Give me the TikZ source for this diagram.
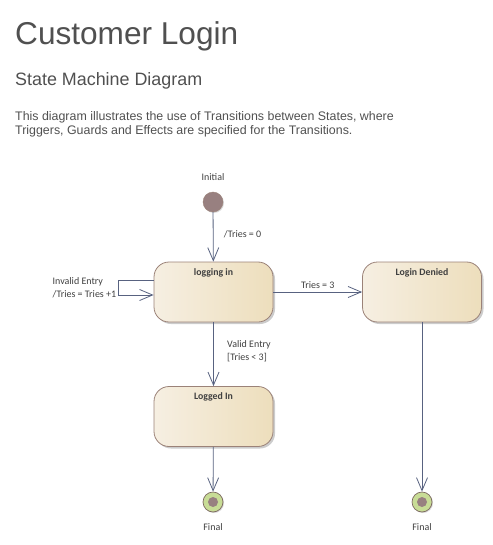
\documentclass[tikz,border=0pt]{standalone}
\usepackage{fontspec}
\setmainfont{Liberation Sans}
\newfontfamily\diagfont{Carlito}
\usetikzlibrary{arrows.meta,shadows,positioning}

\definecolor{linecol}{RGB}{88,98,128}
\definecolor{stateleft}{RGB}{246,239,226}
\definecolor{stateright}{RGB}{237,222,188}
\definecolor{stateline}{RGB}{155,130,120}
\definecolor{pseudofill}{RGB}{152,128,128}
\definecolor{finalfill}{RGB}{200,220,150}
\definecolor{headgray}{RGB}{80,80,80}
\definecolor{labelgray}{RGB}{64,64,64}

\begin{document}
\begin{tikzpicture}[x=1pt, y=-1pt,
    state/.style={draw=stateline, line width=0.8pt, rounded corners=15pt, minimum width=119pt, minimum height=60pt,
        left color=stateleft, right color=stateright,
        drop shadow={shadow xshift=2pt, shadow yshift=-2pt, fill=black!40, opacity=0.5}},
    statename/.style={font=\diagfont\bfseries\fontsize{9.8}{11}\selectfont, text=labelgray},
    lbl/.style={font=\diagfont\fontsize{10}{12.5}\selectfont, text=labelgray},
    initial/.style={circle, draw=stateline, fill=pseudofill, minimum size=20pt, inner sep=0pt,
        drop shadow={shadow xshift=1pt, shadow yshift=-1pt, fill=black!30, opacity=0.5}},
    final/.style={circle, draw=stateline!80!black, line width=0.7pt, fill=finalfill, minimum size=20pt, inner sep=0pt,
        path picture={\fill[pseudofill] (path picture bounding box.center) circle (5pt);},
        drop shadow={shadow xshift=1pt, shadow yshift=-1pt, fill=black!30, opacity=0.5}},
    trans/.style={draw=linecol, line width=0.8pt, -{Straight Barb[length=13pt,width=11pt]}}
]
    \useasboundingbox (0,0) rectangle (492,545);

    % Heading
    \node [anchor=base west, inner sep=0pt, text=headgray, font=\fontsize{31.6}{36}\selectfont] (title) at (15,45) {Customer Login};
    \node [anchor=base west, inner sep=0pt, text=headgray, font=\fontsize{17.9}{21}\selectfont] (subtitle) at (15,86) {State Machine Diagram};
    \node [anchor=base west, inner sep=0pt, text=headgray, align=left, font=\fontsize{12.4}{14}\selectfont] (note) at (15,135)
        {This diagram illustrates the use of Transitions between States, where\\Triggers, Guards and Effects are specified for the Transitions.};

    % States
    \node [initial, label={[lbl, label distance=8pt]above:Initial}] (init) at (213,202) {};
    \node [state, label={[statename, anchor=north, yshift=-3pt]north:logging in}] (login) at (213.5,292) {};
    \node [state, label={[statename, anchor=north, yshift=-3pt]north:Login Denied}] (denied) at (422,292) {};
    \node [state, label={[statename, anchor=north, yshift=-3pt]north:Logged In}] (logged) at (213.5,416.5) {};
    \node [final, label={[lbl, label distance=8pt]below:Final}] (finalA) at (213,502) {};
    \node [final, label={[lbl, label distance=8pt]below:Final}] (finalB) at (422,502) {};

    % Transitions
    \draw [trans] (init) -- (login) node [midway, right, lbl, xshift=7pt, yshift=3pt] {/Tries = 0};
    \draw [trans] ([yshift=12pt]login.west) -- ++(-35,0) -- ++(0,15)
        node [midway, left, lbl, align=left, inner sep=2pt] {Invalid Entry\\/Tries = Tries +1}
        -- ([yshift=-3pt]login.west);
    \draw [trans] (login) -- (denied) node [midway, above, lbl] {Tries = 3};
    \draw [trans] (login) -- (logged) node [midway, right, lbl, align=left, xshift=10pt, yshift=3pt] {Valid Entry\\{[}Tries < 3{]}};
    \draw [trans] (logged) -- (finalA);
    \draw [trans] (denied) -- (finalB);
\end{tikzpicture}
\end{document}
